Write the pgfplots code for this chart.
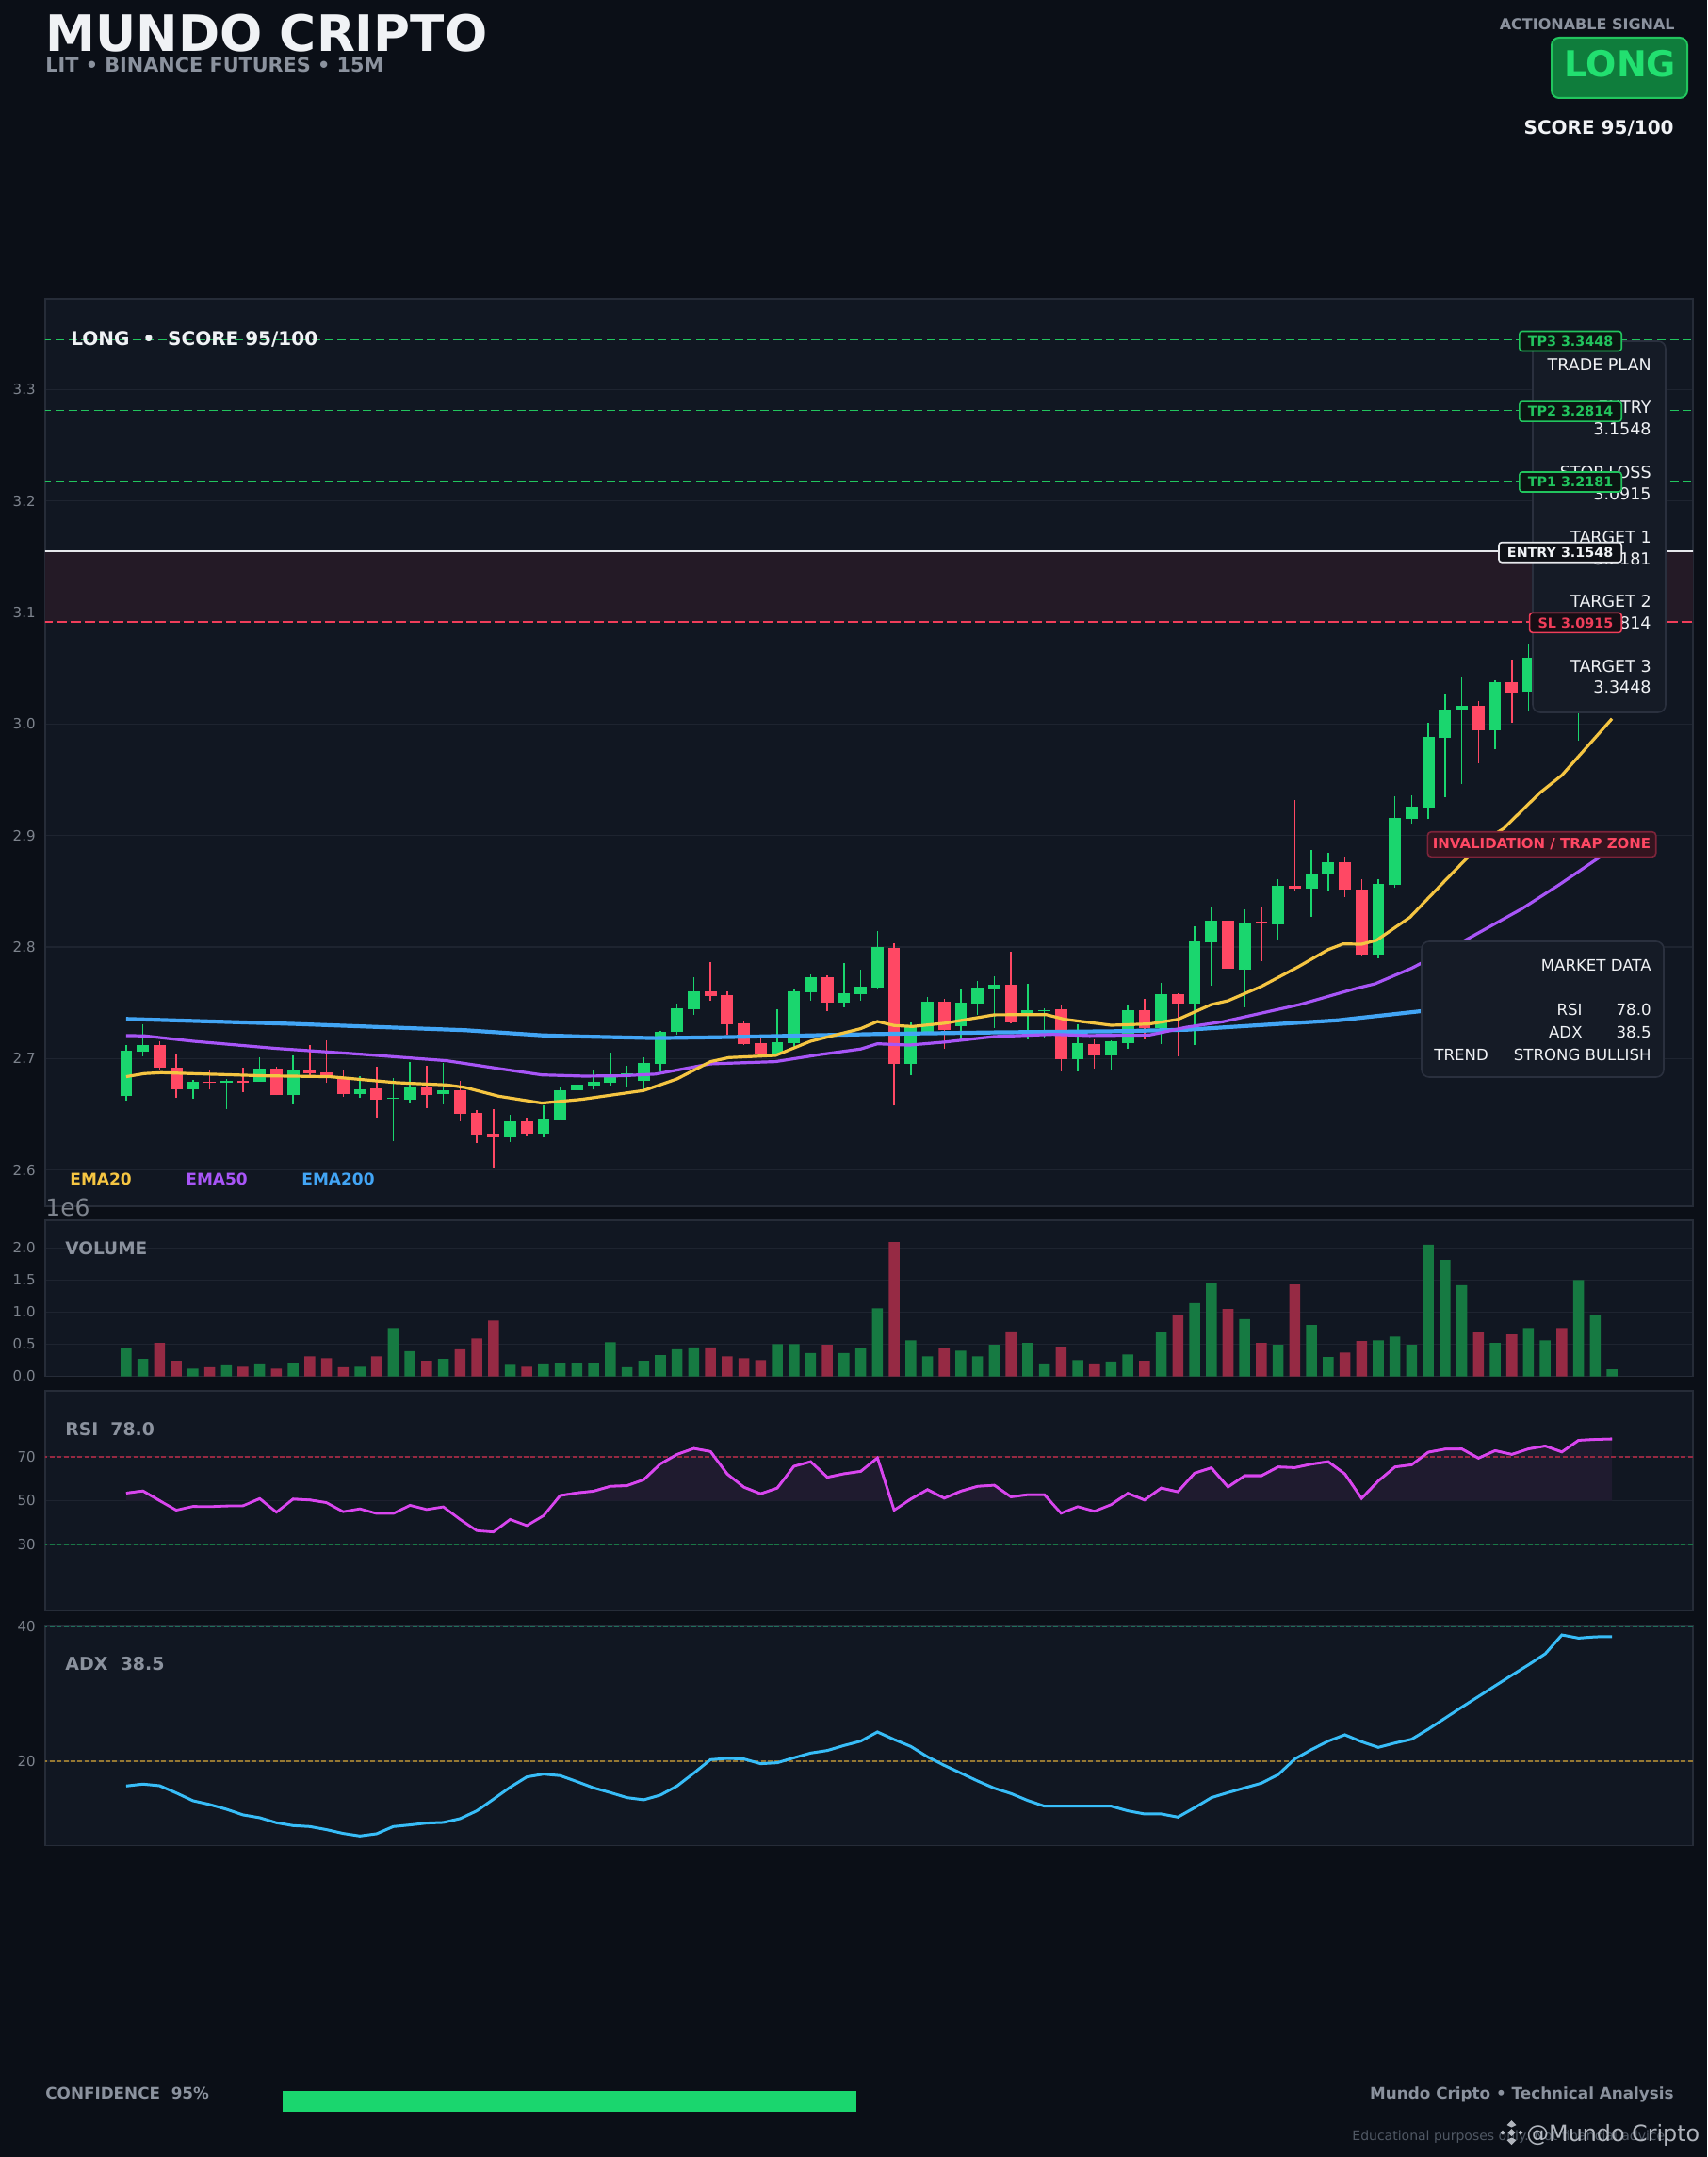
\documentclass[border=0pt]{standalone}
\usepackage{fontspec}
\setmainfont{DejaVu Sans}
\usepackage{pgfplots}
\pgfplotsset{compat=1.18}
\usepackage{pgfplotstable}

\definecolor{bgouter}{RGB}{11,15,23}
\definecolor{panelbg}{RGB}{17,23,34}
\definecolor{borderc}{RGB}{38,44,56}
\definecolor{gridc}{RGB}{30,36,48}
\definecolor{tickc}{RGB}{125,131,141}
\definecolor{greyt}{RGB}{139,146,158}
\definecolor{whitet}{RGB}{240,242,245}
\definecolor{cgreen}{RGB}{26,214,110}
\definecolor{cred}{RGB}{255,72,100}
\definecolor{vgreen}{RGB}{22,122,66}
\definecolor{vred}{RGB}{150,42,68}
\definecolor{emaA}{RGB}{245,197,66}
\definecolor{emaB}{RGB}{168,85,247}
\definecolor{emaC}{RGB}{66,165,245}
\definecolor{tpgreen}{RGB}{34,197,94}
\definecolor{slred}{RGB}{240,62,90}
\definecolor{entryc}{RGB}{230,232,236}
\definecolor{zonec}{RGB}{36,26,38}
\definecolor{boxbg}{RGB}{21,27,38}
\definecolor{boxborder}{RGB}{42,48,62}
\definecolor{badgebg}{RGB}{15,125,60}
\definecolor{longg}{RGB}{34,224,112}
\definecolor{invbg}{RGB}{52,20,31}
\definecolor{invborder}{RGB}{125,36,58}
\definecolor{rsic}{RGB}{217,70,239}
\definecolor{rsifill}{RGB}{31,27,47}
\definecolor{adxc}{RGB}{56,189,248}
\definecolor{rsiup}{RGB}{150,40,65}
\definecolor{rsidn}{RGB}{25,120,70}
\definecolor{adxtop}{RGB}{30,110,90}
\definecolor{adxmid}{RGB}{150,120,50}
\definecolor{tpbg}{RGB}{11,21,18}
\definecolor{entbg}{RGB}{14,16,22}
\definecolor{slbg}{RGB}{22,13,20}
\definecolor{dimt}{RGB}{80,88,100}
\definecolor{wmc}{RGB}{205,210,218}

\pgfplotstableread{
x o h l c v
0 2.6660 2.7120 2.6625 2.7070 0.43
1 2.7065 2.7310 2.7020 2.7120 0.27
4 2.6720 2.6810 2.6640 2.6790 0.12
6 2.6780 2.6820 2.6550 2.6800 0.17
8 2.6790 2.7010 2.6790 2.6910 0.20
10 2.6670 2.7030 2.6590 2.6890 0.21
14 2.6680 2.6840 2.6650 2.6720 0.15
16 2.6635 2.6825 2.6260 2.6648 0.75
17 2.6634 2.6970 2.6600 2.6740 0.39
19 2.6680 2.6958 2.6590 2.6715 0.27
23 2.6296 2.6493 2.6253 2.6436 0.18
25 2.6330 2.6580 2.6290 2.6450 0.20
26 2.6448 2.6740 2.6448 2.6715 0.21
27 2.6713 2.6856 2.6577 2.6766 0.21
28 2.6760 2.6900 2.6720 2.6794 0.21
29 2.6780 2.7056 2.6760 2.6860 0.53
30 2.6853 2.6935 2.6740 2.6868 0.14
31 2.6803 2.7010 2.6720 2.6960 0.24
32 2.6952 2.7245 2.6887 2.7240 0.33
33 2.7240 2.7493 2.7217 2.7450 0.42
34 2.7445 2.7727 2.7394 2.7600 0.45
39 2.7048 2.7440 2.7028 2.7150 0.50
40 2.7140 2.7628 2.7104 2.7600 0.50
41 2.7597 2.7755 2.7521 2.7727 0.36
43 2.7504 2.7857 2.7462 2.7583 0.36
44 2.7580 2.7797 2.7521 2.7645 0.43
45 2.7640 2.8144 2.7630 2.8000 1.06
47 2.6955 2.7324 2.6853 2.7296 0.56
48 2.7231 2.7552 2.7225 2.7510 0.31
50 2.7293 2.7620 2.7170 2.7500 0.40
51 2.7496 2.7696 2.7394 2.7637 0.31
52 2.7631 2.7738 2.7276 2.7660 0.49
54 2.7400 2.7670 2.7175 2.7431 0.52
55 2.7425 2.7450 2.7180 2.7436 0.20
57 2.6992 2.7307 2.6887 2.7138 0.25
59 2.7030 2.7163 2.6896 2.7155 0.23
60 2.7140 2.7480 2.7090 2.7434 0.34
62 2.7272 2.7680 2.7132 2.7574 0.68
64 2.7492 2.8183 2.7123 2.8047 1.14
65 2.8040 2.8352 2.7653 2.8239 1.46
67 2.7801 2.8335 2.7456 2.8222 0.89
69 2.8203 2.8611 2.8070 2.8546 0.49
71 2.8526 2.8873 2.8273 2.8659 0.80
72 2.8650 2.8842 2.8498 2.8757 0.30
75 2.7929 2.8611 2.7898 2.8563 0.56
76 2.8555 2.9349 2.8532 2.9155 0.62
77 2.9152 2.9358 2.9104 2.9256 0.49
78 2.9253 3.0011 2.9146 2.9884 2.05
79 2.9873 3.0273 2.9343 3.0127 1.81
80 3.0127 3.0423 2.9465 3.0160 1.42
82 2.9941 3.0392 2.9775 3.0372 0.52
84 3.0287 3.0724 3.0110 3.0597 0.75
85 3.0597 3.1000 3.0500 3.0900 0.56
87 3.0750 3.1200 2.9850 3.1100 1.50
88 3.1100 3.1500 3.1000 3.1400 0.96
89 3.1400 3.1600 3.1350 3.1548 0.11
}\upT

\pgfplotstableread{
x o h l c v
2 2.7120 2.7155 2.6890 2.6920 0.52
3 2.6920 2.7040 2.6650 2.6720 0.24
5 2.6790 2.6900 2.6720 2.6780 0.14
7 2.6800 2.6920 2.6700 2.6780 0.15
9 2.6910 2.6930 2.6670 2.6670 0.12
11 2.6890 2.7120 2.6845 2.6870 0.31
12 2.6876 2.7160 2.6780 2.6850 0.28
13 2.6817 2.6890 2.6656 2.6680 0.14
15 2.6730 2.6927 2.6470 2.6630 0.31
18 2.6740 2.6935 2.6558 2.6673 0.24
20 2.6715 2.6800 2.6440 2.6507 0.42
21 2.6510 2.6535 2.6240 2.6318 0.59
22 2.6324 2.6544 2.6025 2.6296 0.87
24 2.6436 2.6467 2.6310 2.6330 0.15
35 2.7600 2.7865 2.7521 2.7564 0.45
36 2.7569 2.7600 2.7211 2.7310 0.31
37 2.7318 2.7330 2.7120 2.7132 0.28
38 2.7138 2.7210 2.7023 2.7048 0.25
42 2.7727 2.7747 2.7428 2.7504 0.49
46 2.7992 2.8034 2.6577 2.6955 2.09
49 2.7510 2.7535 2.7090 2.7254 0.43
53 2.7662 2.7958 2.7315 2.7327 0.70
56 2.7442 2.7476 2.6887 2.6992 0.46
58 2.7130 2.7170 2.6910 2.7030 0.20
61 2.7434 2.7532 2.7175 2.7272 0.24
63 2.7574 2.7588 2.7019 2.7492 0.96
66 2.8239 2.8281 2.7470 2.7808 1.05
68 2.8225 2.8352 2.7873 2.8210 0.52
70 2.8546 2.9315 2.8498 2.8520 1.43
73 2.8757 2.8808 2.8447 2.8512 0.37
74 2.8512 2.8611 2.7920 2.7929 0.55
81 3.0160 3.0203 2.9648 2.9941 0.68
83 3.0372 3.0575 3.0011 3.0282 0.65
86 3.0900 3.1100 3.0600 3.0750 0.75
}\dnT

\pgfplotstableread{
x v
0 2.6837
1.1 2.6865
2.1 2.6873
8.2 2.6845
12.2 2.6837
16.2 2.6783
19.2 2.6763
20.3 2.6740
22.3 2.6662
24.9 2.6600
27.3 2.6634
31.0 2.6713
33.0 2.6817
35.0 2.6972
36.1 2.7008
38.9 2.7028
41.0 2.7155
44.0 2.7268
45.0 2.7332
46.0 2.7296
47.1 2.7287
49.0 2.7316
52.0 2.7392
55.1 2.7394
56.2 2.7352
59.0 2.7298
61.3 2.7310
63.0 2.7351
65.0 2.7484
66.0 2.7518
68.0 2.7647
70.2 2.7822
72.0 2.7977
72.9 2.8028
74.0 2.8025
74.9 2.8061
76.9 2.8267
79.1 2.8611
81.3 2.8949
82.5 2.9062
84.7 2.9386
86.0 2.9541
89.0 3.0048
}\emaAT

\pgfplotstableread{
x v
0 2.7206
1.1 2.7203
4.0 2.7155
9.0 2.7090
14.2 2.7037
19.2 2.6980
22.3 2.6910
24.9 2.6853
27.4 2.6842
29.7 2.6845
31.7 2.6860
35.0 2.6952
38.9 2.6972
41.5 2.7034
44.0 2.7085
45.0 2.7132
46.9 2.7120
49.0 2.7147
52.0 2.7197
55.5 2.7217
57.7 2.7206
61.3 2.7211
63.5 2.7280
65.7 2.7330
70.3 2.7484
73.7 2.7630
74.8 2.7670
77.0 2.7810
80.2 2.8060
83.6 2.8343
85.8 2.8555
88.3 2.8810
89.0 2.8880
}\emaBT

\pgfplotstableread{
x v
0 2.7355
10.1 2.7310
20.3 2.7254
24.9 2.7208
27.4 2.7197
31.7 2.7183
36.0 2.7192
45.0 2.7220
52.0 2.7234
59.0 2.7244
63.5 2.7258
68.0 2.7300
72.6 2.7343
77.7 2.7427
83.0 2.7500
89.0 2.7580
}\emaCT

\pgfplotstableread{
x r
0 53.4
1 54.4
2 50.0
3 45.7
4 47.4
5 47.3
6 47.6
7 47.7
8 50.9
9 44.8
10 50.7
11 50.3
12 49.1
13 45.0
14 46.3
15 44.2
16 44.2
17 47.9
18 46.0
19 47.2
20 41.5
21 36.4
22 35.8
23 41.5
24 38.7
25 43.2
26 52.3
27 53.5
28 54.3
29 56.5
30 56.8
31 59.5
32 66.7
33 71.0
34 73.7
35 72.3
36 62.1
37 56.1
38 53.1
39 55.7
40 65.6
41 67.7
42 60.6
43 62.2
44 63.3
45 69.4
46 45.7
47 50.7
48 55.0
49 51.1
50 54.3
51 56.5
52 57.0
53 51.7
54 52.7
55 52.7
56 44.3
57 47.3
58 45.2
59 48.2
60 53.3
61 50.3
62 55.7
63 54.0
64 62.5
65 64.9
66 56.2
67 61.3
68 61.3
69 65.3
70 65.0
71 66.6
72 67.7
73 62.1
74 51.0
75 58.9
76 65.3
77 66.3
78 72.0
79 73.4
80 73.5
81 69.3
82 72.7
83 71.0
84 73.5
85 74.8
86 72.1
87 77.4
88 77.8
89 78.0
}\rsiT

\pgfplotstableread{
x a
0 16.32
1 16.60
2 16.36
3 15.29
4 14.13
5 13.57
6 12.87
7 12.03
8 11.61
9 10.86
10 10.44
11 10.30
12 9.84
13 9.28
14 8.90
15 9.23
16 10.30
17 10.54
18 10.82
19 10.91
20 11.47
21 12.63
22 14.36
23 16.13
24 17.67
25 18.09
26 17.86
27 16.97
28 16.04
29 15.34
30 14.59
31 14.27
32 14.97
33 16.32
34 18.23
35 20.23
36 20.42
37 20.33
38 19.63
39 19.77
40 20.51
41 21.21
42 21.59
43 22.33
44 22.98
45 24.34
46 23.22
47 22.19
48 20.65
49 19.39
50 18.23
51 17.06
52 15.99
53 15.20
54 14.17
55 13.33
56 13.33
57 13.33
58 13.33
59 13.33
60 12.63
61 12.17
62 12.17
63 11.70
64 13.10
65 14.59
66 15.34
67 16.04
68 16.74
69 18.00
70 20.33
71 21.72
72 22.98
73 23.92
74 22.89
75 22.05
76 22.70
77 23.26
78 24.76
79 26.39
80 28.02
81 29.60
82 31.19
83 32.77
84 34.31
85 35.94
86 38.74
87 38.27
88 38.46
89 38.50
}\adxT

\pgfplotsset{
  mypanel/.style={
    scale only axis, width=874.5pt, anchor=south west,
    xmin=-4.85, xmax=93.85, xtick=\empty,
    axis background/.style={fill=panelbg},
    axis line style={draw=borderc, line width=0.8pt},
    ymajorgrids, grid style={draw=gridc, line width=0.6pt},
    major tick length=0pt, tick style={draw=none},
    scaled y ticks=false,
    yticklabel style={font=\fontsize{7.5pt}{9pt}\selectfont, text=tickc, inner xsep=0pt, xshift=-5pt},
    /pgf/number format/assume math mode=true,
  },
  wick/.style={only marks, mark=*, mark size=0pt, mark options={draw=none, fill=none},
    error bars/.cd, y dir=plus, y explicit, error mark=none,
    error bar style={draw=#1, line width=0.75pt}},
  body/.style={only marks, mark=*, mark size=0pt, mark options={draw=none, fill=none},
    error bars/.cd, y dir=plus, y explicit, error mark=none,
    error bar style={draw=#1, line width=6.4pt}},
}

\begin{document}
\begin{tikzpicture}
\fill[bgouter] (0pt,0pt) rectangle (906pt,-1144.5pt);

% ---------------- main price panel
\begin{axis}[mypanel, at={(24pt,-640pt)}, height=481.5pt,
  ymin=2.5675, ymax=3.3816,
  ytick={2.6,2.7,2.8,2.9,3.0,3.1,3.2,3.3},
  yticklabel style={/pgf/number format/fixed, /pgf/number format/fixed zerofill, /pgf/number format/precision=1}]
\addplot[fill=zonec, draw=none] coordinates {(-5,3.0915) (94,3.0915) (94,3.1548) (-5,3.1548)} -- cycle;
\addplot[tpgreen, dash pattern=on 4.5pt off 2.3pt, line width=0.8pt] coordinates {(-5,3.3448) (94,3.3448)};
\addplot[tpgreen, dash pattern=on 4.5pt off 2.3pt, line width=0.8pt] coordinates {(-5,3.2814) (94,3.2814)};
\addplot[tpgreen, dash pattern=on 4.5pt off 2.3pt, line width=0.8pt] coordinates {(-5,3.2181) (94,3.2181)};
\addplot[entryc, line width=1pt] coordinates {(-5,3.1548) (94,3.1548)};
\addplot[slred, dash pattern=on 5.5pt off 2pt, line width=1pt] coordinates {(-5,3.0915) (94,3.0915)};
% wicks
\addplot[wick=cgreen] table[x=x, y=l, y error expr=\thisrow{h}-\thisrow{l}] {\upT};
\addplot[wick=cred] table[x=x, y=l, y error expr=\thisrow{h}-\thisrow{l}] {\dnT};
% bodies
\addplot[body=cgreen] table[x=x, y=o, y error expr=\thisrow{c}-\thisrow{o}] {\upT};
\addplot[body=cred] table[x=x, y=c, y error expr=\thisrow{o}-\thisrow{c}] {\dnT};
% EMAs
\addplot[emaC, line width=2.1pt] table[x=x, y=v] {\emaCT};
\addplot[emaB, line width=1.6pt] table[x=x, y=v] {\emaBT};
\addplot[emaA, line width=1.6pt] table[x=x, y=v] {\emaAT};
\end{axis}

% ---------------- volume panel
\begin{axis}[mypanel, at={(24pt,-730.25pt)}, height=82.75pt,
  ymin=0, ymax=2.43, ytick={0,0.5,1,1.5,2},
  yticklabel style={/pgf/number format/fixed, /pgf/number format/fixed zerofill, /pgf/number format/precision=1}]
\addplot[ybar, bar width=0.65, bar shift=0pt, fill=vgreen, draw=none] table[x=x, y=v] {\upT};
\addplot[ybar, bar width=0.65, bar shift=0pt, fill=vred, draw=none] table[x=x, y=v] {\dnT};
\end{axis}

% ---------------- RSI panel
\begin{axis}[mypanel, at={(24pt,-854.65pt)}, height=116.8pt,
  ymin=0, ymax=100, ytick={30,50,70}]
\addplot[rsidn, dash pattern=on 2.5pt off 1.2pt, line width=0.9pt] coordinates {(-5,30) (94,30)};
\addplot[rsiup, dash pattern=on 2.5pt off 1.2pt, line width=0.9pt] coordinates {(-5,70) (94,70)};
\addplot[rsic, line width=1.4pt] table[x=x, y=r] {\rsiT};
\end{axis}
% RSI overbought shading (upper half overlay, clipped at 50)
\begin{axis}[at={(24pt,-796.25pt)}, anchor=south west, scale only axis, width=874.5pt, height=58.4pt,
  xmin=-4.85, xmax=93.85, ymin=50, ymax=100, hide axis]
\addplot[fill=rsifill, draw=none] table[x=x, y=r] {\rsiT} \closedcycle;
\addplot[rsiup, dash pattern=on 2.5pt off 1.2pt, line width=0.9pt] coordinates {(-5,70) (94,70)};
\addplot[rsic, line width=1.4pt] table[x=x, y=r] {\rsiT};
\end{axis}

% ---------------- ADX panel
\begin{axis}[mypanel, at={(24pt,-979.15pt)}, height=117pt,
  ymin=7.5, ymax=40.24, ytick={20,40}]
\addplot[adxtop, dash pattern=on 2.5pt off 1.2pt, line width=0.7pt] coordinates {(-5,40) (94,40)};
\addplot[adxmid, dash pattern=on 2.5pt off 1.2pt, line width=0.9pt] coordinates {(-5,20) (94,20)};
\addplot[adxc, line width=1.5pt] table[x=x, y=a] {\adxT};
\end{axis}

% ---------------- confidence bar
\begin{axis}[at={(150pt,-1120.5pt)}, anchor=south west, scale only axis, width=320.5pt, height=11pt,
  xmin=0, xmax=100, ymin=0, ymax=1, hide axis]
\addplot[fill=cgreen, draw=none] coordinates {(0,1) (95,1)} \closedcycle;
\end{axis}

% ---------------- annotations (pixel coordinates, y down)
\begin{scope}[x=0.5pt, y=-0.5pt]
% header
\node[anchor=base west, inner sep=0, text=whitet, font=\bfseries\fontsize{26.6pt}{26.6pt}\selectfont] at (48,55) {MUNDO CRIPTO};
\node[anchor=base west, inner sep=0, text=greyt, font=\bfseries\fontsize{10.4pt}{10.4pt}\selectfont] at (48,77) {LIT • BINANCE FUTURES • 15M};
\node[anchor=base east, inner sep=0, text=greyt, font=\bfseries\fontsize{8pt}{8pt}\selectfont] at (1778,31.5) {ACTIONABLE SIGNAL};
\draw[fill=badgebg, draw=tpgreen, line width=1pt, rounded corners=4pt] (1647,40) rectangle (1791,104);
\node[inner sep=0, text=longg, font=\bfseries\fontsize{19pt}{19pt}\selectfont] at (1720,67.5) {LONG};
\node[anchor=base east, inner sep=0, text=whitet, font=\bfseries\fontsize{10pt}{10pt}\selectfont] at (1777,143) {SCORE 95/100};

% main panel texts
\node[anchor=base west, inner sep=0, text=whitet, font=\bfseries\fontsize{10pt}{10pt}\selectfont] at (75,367) {LONG~~•~~SCORE 95/100};
\node[anchor=base west, inner sep=0, text=emaA, font=\bfseries\fontsize{8.5pt}{8.5pt}\selectfont] at (74,1257) {EMA20};
\node[anchor=base west, inner sep=0, text=emaB, font=\bfseries\fontsize{8.5pt}{8.5pt}\selectfont] at (197,1257) {EMA50};
\node[anchor=base west, inner sep=0, text=emaC, font=\bfseries\fontsize{8.5pt}{8.5pt}\selectfont] at (320,1257) {EMA200};

% trade plan box
\draw[fill=boxbg, draw=boxborder, line width=0.8pt, rounded corners=4pt] (1627,362) rectangle (1768,756);
\begin{scope}[every node/.style={anchor=base east, inner sep=0, text=whitet, font=\fontsize{8.75pt}{8.75pt}\selectfont}]
\node at (1753,394) {TRADE PLAN};
\node at (1753,439) {ENTRY};
\node at (1753,462) {3.1548};
\node at (1753,508) {STOP LOSS};
\node at (1753,530) {3.0915};
\node at (1753,576) {TARGET 1};
\node at (1753,599) {3.2181};
\node at (1753,644) {TARGET 2};
\node at (1753,667) {3.2814};
\node at (1753,713) {TARGET 3};
\node at (1753,735) {3.3448};
\end{scope}

% level labels
\begin{scope}[every node/.style={anchor=east, inner xsep=4.5pt, inner ysep=0pt, minimum height=10.5pt, rounded corners=1.5pt, line width=0.8pt, font=\bfseries\fontsize{7.15pt}{7.15pt}\selectfont}]
\node[fill=tpbg, draw=tpgreen, text=tpgreen] at (1722,362) {TP3 3.3448};
\node[fill=tpbg, draw=tpgreen, text=tpgreen] at (1722,436.7) {TP2 3.2814};
\node[fill=tpbg, draw=tpgreen, text=tpgreen] at (1722,511.5) {TP1 3.2181};
\node[fill=entbg, draw=entryc, text=whitet] at (1722,586.2) {ENTRY 3.1548};
\node[fill=slbg, draw=slred, text=slred] at (1722,660.8) {SL 3.0915};
\end{scope}

% invalidation label
\node[fill=invbg, draw=invborder, line width=0.8pt, rounded corners=2pt, inner xsep=2.75pt, inner ysep=0pt, minimum height=13.3pt, text=cred, font=\bfseries\fontsize{7.5pt}{7.5pt}\selectfont] at (1636.5,896) {INVALIDATION / TRAP ZONE};

% market data box
\draw[fill=boxbg, draw=boxborder, line width=0.8pt, rounded corners=4pt] (1509,999) rectangle (1766,1143);
\begin{scope}[every node/.style={inner sep=0, text=whitet, font=\fontsize{8.3pt}{8.3pt}\selectfont}]
\node[anchor=base east] at (1753,1030) {MARKET DATA};
\node[anchor=base east] at (1680,1077) {RSI};
\node[anchor=base east] at (1753,1077) {78.0};
\node[anchor=base east] at (1680,1101) {ADX};
\node[anchor=base east] at (1753,1101) {38.5};
\node[anchor=base west] at (1522,1125) {TREND};
\node[anchor=base east] at (1753,1125) {STRONG BULLISH};
\end{scope}

% sub-panel labels
\node[anchor=base west, inner sep=0, text=tickc, font=\fontsize{12.5pt}{12.5pt}\selectfont] at (48,1290) {1e6};
\node[anchor=base west, inner sep=0, text=greyt, font=\bfseries\fontsize{9.25pt}{9.25pt}\selectfont] at (69,1331) {VOLUME};
\node[anchor=base west, inner sep=0, text=greyt, font=\bfseries\fontsize{9.4pt}{9.4pt}\selectfont] at (69,1523) {RSI~~78.0};
\node[anchor=base west, inner sep=0, text=greyt, font=\bfseries\fontsize{9.5pt}{9.5pt}\selectfont] at (69,1772) {ADX~~38.5};

% footer
\node[anchor=base west, inner sep=0, text=greyt, font=\bfseries\fontsize{8.4pt}{8.4pt}\selectfont] at (48,2227) {CONFIDENCE~~95\%};
\node[anchor=base east, inner sep=0, text=greyt, font=\bfseries\fontsize{8.4pt}{8.4pt}\selectfont] at (1777,2227) {Mundo Cripto • Technical Analysis};
\node[anchor=base west, inner sep=0, text=dimt, font=\fontsize{7pt}{7pt}\selectfont] at (1435,2271) {Educational purposes only. Not financial advice.};
% watermark logo
\begin{scope}[fill=wmc, opacity=0.85]
\fill (1604.5,2259) -- (1608.5,2263) -- (1604.5,2267) -- (1600.5,2263) -- cycle;
\fill (1604.5,2250) -- (1609.5,2255) -- (1604.5,2257.5) -- (1599.5,2255) -- cycle;
\fill (1604.5,2276) -- (1609.5,2271) -- (1604.5,2268.5) -- (1599.5,2271) -- cycle;
\fill (1595,2260.5) -- (1597.5,2263) -- (1595,2265.5) -- (1592.5,2263) -- cycle;
\fill (1614,2260.5) -- (1616.5,2263) -- (1614,2265.5) -- (1611.5,2263) -- cycle;
\end{scope}
\node[anchor=base west, inner sep=0, text=wmc, opacity=0.85, font=\fontsize{11.9pt}{11.9pt}\selectfont] at (1620,2272) {@Mundo Cripto};
\end{scope}

\pgfresetboundingbox
\path[use as bounding box] (0pt,0pt) rectangle (906pt,-1144.5pt);
\end{tikzpicture}
\end{document}
